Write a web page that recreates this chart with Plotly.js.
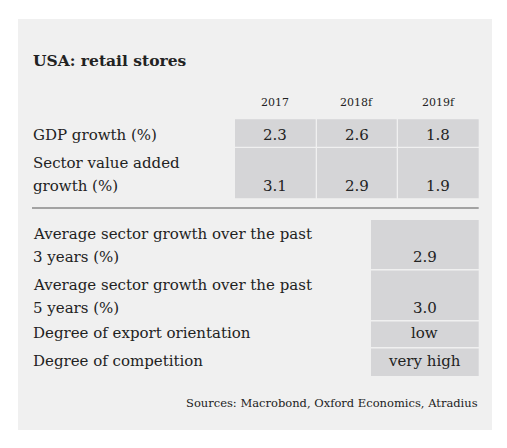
<!DOCTYPE html>
<html>
<head>
<meta charset="utf-8">
<script src="https://cdn.plot.ly/plotly-3.0.1.min.js"></script>
<style>html,body{margin:0;padding:0;background:#fff;}#chart{width:507px;height:448px;}</style>
</head>
<body>
<div id="chart"></div>
<script>
// ---- data ----
const chartTitle = 'USA: retail stores';
const years = ['2017', '2018f', '2019f'];
const topLabels = [['GDP growth (%)'], ['Sector value added', 'growth (%)']];
const gdpGrowth = [2.3, 2.6, 1.8];
const sectorGrowth = [3.1, 2.9, 1.9];
const bottomLabels = [
  ['Average sector growth over the past', '3 years (%)'],
  ['Average sector growth over the past', '5 years (%)'],
  ['Degree of export orientation'],
  ['Degree of competition']
];
const bottomValues = ['2.9', '3.0', 'low', 'very high'];
const sourceText = 'Sources: Macrobond, Oxford Economics, Atradius';

// ---- layout geometry ----
const FONT = 'DejaVu Serif';
const TXT = '#222';
const CELL = '#d5d5d7';
const colX = [[235, 315.7], [317, 396.7], [398, 478.7]];
const topRowY = [[119.3, 146.7], [148, 198.3]];
const lowColX = [371, 478.7];
const lowRowY = [[220, 269], [270.5, 320], [321.5, 347], [348.5, 376]];
const LABEL_X = 30.5;
const LINE_H = 23;

const shapes = [];
const annotations = [];

// panel
shapes.push({type: 'rect', xref: 'x', yref: 'y', x0: 18, x1: 492, y0: 19, y1: 430,
  fillcolor: '#f0f0f0', line: {width: 0}, layer: 'below'});

function txt(x, y, text, size, xanchor, extra) {
  annotations.push(Object.assign({
    xref: 'x', yref: 'y', x: x, y: y, text: text, showarrow: false,
    xanchor: xanchor, yanchor: 'middle',
    font: {family: FONT, size: size, color: TXT}
  }, extra || {}));
}

// title
txt(LABEL_X, 60, '<b>' + chartTitle + '</b>', 15.5, 'left');

// year headers
years.forEach((y, i) => txt((colX[i][0] + colX[i][1]) / 2, 102, y, 11, 'center'));

// top table
const topValues = [gdpGrowth, sectorGrowth];
topRowY.forEach((r, ri) => {
  colX.forEach((c, ci) => {
    shapes.push({type: 'rect', xref: 'x', yref: 'y', x0: c[0], x1: c[1], y0: r[0], y1: r[1],
      fillcolor: CELL, line: {width: 0}});
    txt((c[0] + c[1]) / 2, r[1] - 12, topValues[ri][ci].toFixed(1), 15, 'center');
  });
  const lines = topLabels[ri];
  lines.forEach((l, li) => {
    const yc = r[1] - 12 - (lines.length - 1 - li) * LINE_H;
    txt(LABEL_X, yc, l, 15, 'left');
  });
});

// separator
shapes.push({type: 'line', xref: 'x', yref: 'y', x0: 32, x1: 478.7, y0: 208, y1: 208,
  line: {color: '#8a8a8a', width: 1.5}});

// bottom table
lowRowY.forEach((r, ri) => {
  shapes.push({type: 'rect', xref: 'x', yref: 'y', x0: lowColX[0], x1: lowColX[1], y0: r[0], y1: r[1],
    fillcolor: CELL, line: {width: 0}});
  const lines = bottomLabels[ri];
  const baseC = lines.length > 1 ? r[1] - 12 : (r[0] + r[1]) / 2 - 1;
  txt((lowColX[0] + lowColX[1]) / 2, baseC, bottomValues[ri], 15, 'center');
  lines.forEach((l, li) => {
    txt(LABEL_X, baseC - (lines.length - 1 - li) * LINE_H, l, 15, 'left');
  });
});

// sources
txt(479.5, 403, sourceText, 11.5, 'right');

const layout = {
  width: 507, height: 448,
  margin: {l: 0, r: 0, t: 0, b: 0},
  paper_bgcolor: '#ffffff', plot_bgcolor: '#ffffff',
  xaxis: {range: [0, 507], visible: false, fixedrange: true},
  yaxis: {range: [448, 0], visible: false, fixedrange: true},
  showlegend: false,
  shapes: shapes,
  annotations: annotations
};

Plotly.newPlot('chart', [{x: [], y: [], type: 'scatter', mode: 'markers'}], layout,
  {displayModeBar: false, staticPlot: true});
</script>
</body>
</html>
